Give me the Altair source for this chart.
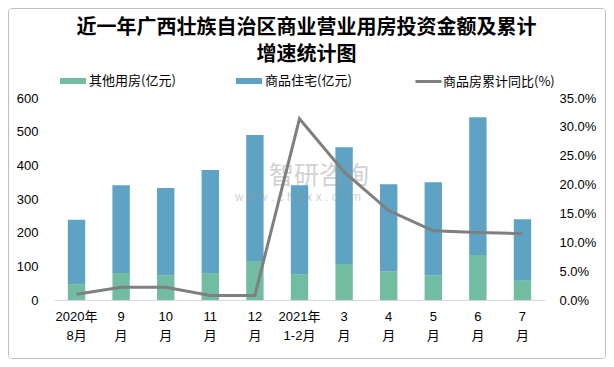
import altair as alt
import pandas as pd

categories = ["2020年|8月", "9|月", "10|月", "11|月", "12|月", "2021年|1-2月",
              "3|月", "4|月", "5|月", "6|月", "7|月"]
other_use = [47, 80, 74, 80, 116, 77, 107, 85, 73, 134, 59]
residential = [191, 261, 259, 306, 374, 264, 347, 259, 277, 409, 181]
growth_pct = [1.0, 2.2, 2.2, 0.8, 0.8, 31.4, 22.2, 15.5, 12.0, 11.7, 11.5]

series_names = ["其他用房(亿元)", "商品住宅(亿元)"]
line_name = "商品房累计同比(%)"
colors = ["#72BDA2", "#5EA3C4"]
line_color = "#7F7F7F"

rows = []
for i, c in enumerate(categories):
    rows.append({"月份": c, "类型": series_names[0], "值": other_use[i], "序": 0})
    rows.append({"月份": c, "类型": series_names[1], "值": residential[i], "序": 1})
bar_df = pd.DataFrame(rows)
line_df = pd.DataFrame({"月份": categories, "同比": [g / 100 for g in growth_pct], "系列": line_name})

W, H = 491, 202
PL, PT, PR, PB = 46, 90, 61, 59
num_font = "Liberation Sans"
cjk_font = "Noto Sans CJK SC"

xenc = alt.X("月份:N", sort=categories,
             scale=alt.Scale(paddingInner=0.61, paddingOuter=0.31),
             axis=alt.Axis(title=None, labelAngle=0, ticks=False, domainColor="#D9D9D9",
                           labelExpr="split(datum.label, '|')", labelFontSize=13,
                           labelFont=num_font + ", " + cjk_font, labelColor="#000000",
                           labelPadding=10, labelLineHeight=19))

rect_path = "M-1,-0.23H1V0.23H-1Z"

bars = alt.Chart(bar_df).mark_bar().encode(
    x=xenc,
    y=alt.Y("值:Q", stack="zero", scale=alt.Scale(domain=[0, 600]),
            axis=alt.Axis(title=None, values=[0, 100, 200, 300, 400, 500, 600], grid=False,
                          domain=False, ticks=False, labelFontSize=13, labelFont=num_font,
                          labelColor="#000000", labelPadding=16)),
    color=alt.Color("类型:N", scale=alt.Scale(domain=series_names, range=colors),
                    legend=alt.Legend(title=None, orient="none", direction="horizontal",
                                      legendX=5, legendY=-31, symbolType=rect_path,
                                      symbolSize=676, symbolOpacity=1, labelFont=cjk_font,
                                      labelFontSize=13, labelColor="#000000", columnPadding=59,
                                      labelOffset=2, padding=0)),
    order=alt.Order("序:Q"),
)

line = alt.Chart(line_df).mark_line(strokeWidth=3).encode(
    x=alt.X("月份:N", sort=categories),
    y=alt.Y("同比:Q", scale=alt.Scale(domain=[0, 0.35]),
            axis=alt.Axis(title=None, orient="right", format=".1%", grid=False, domain=False,
                          ticks=False, values=[0, 0.05, 0.1, 0.15, 0.2, 0.25, 0.3, 0.35],
                          labelFontSize=13, labelFont=num_font, labelColor="#000000",
                          labelPadding=14)),
    stroke=alt.Stroke("系列:N", scale=alt.Scale(domain=[line_name], range=[line_color]),
                      legend=alt.Legend(title=None, orient="none", legendX=360, legendY=-31,
                                        symbolType="stroke", symbolSize=676,
                                        symbolStrokeWidth=3, labelFont=cjk_font,
                                        labelFontSize=13, labelColor="#000000",
                                        labelOffset=0, padding=0)),
)

one = pd.DataFrame({"a": [0]})
watermark1 = alt.Chart(one).mark_text(text="智研咨询", font=cjk_font, fontSize=25,
                                      color="#9A9A9A", opacity=0.45, align="left").encode(
    x=alt.value(215), y=alt.value(78))
watermark2 = alt.Chart(one).mark_text(text="w  w  w  .  c  h  y  x  x  .  c  o  m", font=num_font,
                                      fontSize=12, color="#9A9A9A", opacity=0.45,
                                      align="left").encode(
    x=alt.value(181), y=alt.value(99))
border = alt.Chart(one).mark_rect(fill=None, stroke="#BFBFBF", strokeWidth=1,
                                  cornerRadius=3).encode(
    x=alt.value(-PL + 0.5), x2=alt.value(W + PR - 0.5),
    y=alt.value(-PT + 0.5), y2=alt.value(H + PB - 0.5))

chart = alt.layer(bars, watermark1, watermark2, line, border).resolve_scale(
    y="independent"
).properties(
    width=W, height=H,
    autosize=alt.AutoSizeParams(type="none"),
    padding={"left": PL, "top": PT, "right": PR, "bottom": PB},
    title=alt.TitleParams(text=["近一年广西壮族自治区商业营业用房投资金额及累计", "增速统计图"],
                          font=cjk_font, fontSize=20, fontWeight="bold", color="#000000",
                          anchor="middle", dx=7, offset=-57, lineHeight=27),
).configure_view(stroke=None)

chart.save("out.html", embed_options={"renderer": "svg", "actions": False})
